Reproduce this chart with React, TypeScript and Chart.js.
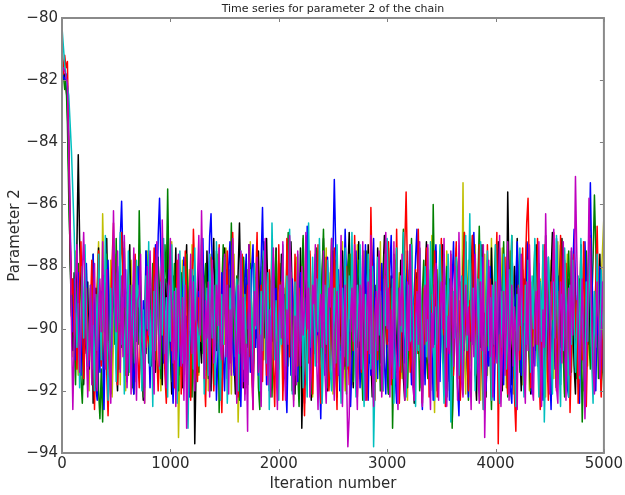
import React, { useEffect, useRef } from "react";
import { Chart, registerables } from "chart.js";

Chart.register(...registerables);

// Samples read every 12.5 iterations from iteration 0 to LAST_ITER
const LAST_ITER = 5000;
const X_TICKS = [0, 1000, 2000, 3000, 4000, 5000];
const Y_TICKS = [-94, -92, -90, -88, -86, -84, -82, -80];
const TITLE = "Time series for parameter 2 of the chain";
const X_LABEL = "Iteration number";
const Y_LABEL = "Parameter 2";

const chainBlue = [
  -81.7, -81.9, -82.0, -81.8, -82.2, -83.9, -86.5, -88.9, -90.1, -88.4, -91.0, -89.6, -88.2, -90.7, -91.5, -89.3, -90.8, -88.6, -87.9, -89.9,
  -91.2, -89.0, -90.3, -87.6, -89.4, -91.9, -92.3, -90.0, -91.4, -88.8, -90.6, -92.6, -90.1, -89.5, -87.8, -89.8, -90.7, -88.5, -87.9, -89.6,
  -90.2, -88.0, -89.4, -87.1, -85.9, -87.8, -89.3, -88.1, -91.7, -90.2, -88.9, -90.6, -91.3, -92.1, -89.6, -90.4, -88.0, -88.9, -90.8, -91.6,
  -89.1, -90.7, -87.5, -88.8, -90.3, -91.9, -89.7, -90.5, -88.4, -87.3, -89.6, -87.0, -85.8, -87.7, -89.6, -91.1, -90.0, -91.9, -89.2, -88.1,
  -90.4, -91.0, -92.4, -90.5, -89.9, -88.7, -90.6, -91.2, -89.4, -88.9, -87.7, -90.0, -89.6, -91.8, -92.2, -89.7, -90.5, -88.3, -89.9, -91.3,
  -89.5, -88.8, -90.4, -88.5, -87.1, -89.7, -91.3, -90.1, -88.9, -87.0, -86.3, -88.2, -90.8, -89.4, -92.3, -91.0, -89.6, -90.4, -88.2, -90.8,
  -92.0, -89.9, -91.3, -88.0, -87.2, -89.7, -90.4, -91.5, -89.2, -88.6, -90.5, -89.1, -92.5, -90.2, -91.7, -88.5, -87.6, -90.0, -89.5, -91.4,
  -88.1, -87.3, -89.9, -90.6, -88.9, -91.5, -89.2, -87.8, -86.1, -88.5, -89.3, -91.8, -90.1, -92.0, -89.6, -90.4, -87.7, -89.1, -88.7, -91.8,
  -90.6, -89.0, -88.9, -87.6, -90.2, -91.6, -92.7, -90.3, -89.8, -91.5, -88.4, -89.8, -90.3, -88.9, -91.7, -90.4, -88.2, -89.7, -91.2, -92.4,
  -90.0, -86.7, -88.3, -90.9, -89.5, -91.1, -88.8, -87.6, -90.2, -89.9, -91.2, -92.9, -90.4, -89.8, -91.5, -88.3, -87.7, -89.4, -91.6, -88.9,
  -87.6, -85.2, -87.3, -89.5, -88.1, -92.0, -90.6, -91.2, -89.0, -86.8, -88.4, -90.1, -89.7, -92.5, -91.1, -90.6, -88.3, -87.5, -90.0, -89.7,
  -91.9, -90.4, -88.9, -89.7, -87.3, -90.8, -92.3, -90.0, -91.5, -88.2, -87.1, -89.6, -90.2, -91.6, -89.5, -90.1, -87.9, -89.4, -91.1, -92.1,
  -89.8, -90.4, -88.1, -87.0, -89.5, -88.0, -91.5, -92.4, -90.1, -89.7, -91.4, -88.6, -90.2, -91.1, -88.7, -87.5, -89.9, -90.5, -91.8, -89.3,
  -88.9, -87.7, -86.8, -89.2, -88.9, -91.4, -92.6, -90.2, -91.8, -88.6, -89.5, -91.0, -89.1, -90.6, -92.3, -88.0, -87.3, -89.8, -90.4, -91.7,
  -89.2, -90.8, -87.6, -89.1, -91.7, -90.0, -92.3, -89.9, -88.5, -87.2, -89.6, -90.3, -91.9, -92.8, -90.4, -89.9, -91.6, -87.8, -89.3, -90.9,
  -92.2, -89.8, -90.4, -88.1, -86.9, -88.3, -90.8, -91.4, -89.2, -88.9, -87.7, -90.2, -89.8, -92.0, -90.6, -91.2, -88.0, -89.5, -91.1, -92.3,
  -90.0, -89.6, -91.3, -87.4, -88.9, -90.5, -91.8, -89.4, -90.0, -87.8, -89.3, -91.9, -92.4, -90.1, -89.7, -88.4, -87.2, -89.7, -90.2, -91.5,
  -89.1, -88.7, -90.5, -87.2, -87.4, -89.1, -91.7, -92.1, -90.6, -91.2, -88.8, -89.5, -87.9, -90.4, -91.0, -92.3, -89.9, -90.5, -88.2, -89.7,
  -91.3, -92.6, -90.1, -89.7, -91.3, -87.1, -88.6, -90.2, -91.8, -89.5, -90.1, -87.8, -89.2, -91.9, -92.2, -89.8, -90.4, -88.1, -86.8, -88.5,
  -90.1, -91.7, -92.4, -90.0, -89.6, -91.3, -87.2, -88.8, -90.4, -88.2, -85.3, -87.9, -89.6, -91.2, -92.0, -89.6, -90.2, -88.0, -89.5, -91.1,
  -91.5,
];

const chainGreen = [
  -81.6, -81.8, -82.3, -82.0, -83.4, -85.8, -87.5, -89.6, -88.4, -90.5, -91.8, -89.2, -87.9, -90.1, -91.6, -92.4, -90.7, -88.3, -89.6, -91.2,
  -90.3, -88.7, -89.9, -87.6, -90.2, -91.4, -89.0, -92.0, -92.9, -91.3, -93.0, -90.6, -89.1, -87.6, -88.9, -90.8, -92.1, -89.7, -88.4, -90.5,
  -87.1, -89.5, -91.3, -89.9, -90.6, -88.2, -87.4, -89.8, -90.9, -91.5, -88.6, -90.7, -91.9, -89.4, -87.8, -88.9, -90.5, -86.2, -88.6, -90.0,
  -92.2, -90.0, -87.5, -89.3, -91.1, -88.7, -90.4, -87.9, -89.6, -91.0, -89.2, -87.7, -90.3, -91.6, -88.8, -89.4, -87.3, -88.5, -85.5, -88.4,
  -90.6, -91.7, -89.3, -87.9, -90.1, -91.5, -92.0, -89.6, -88.2, -90.7, -91.2, -89.8, -87.6, -88.8, -91.0, -90.1, -92.2, -89.5, -88.7, -90.9,
  -89.7, -91.4, -88.1, -89.5, -90.8, -88.6, -87.9, -90.2, -91.6, -89.3, -88.4, -90.6, -91.8, -89.1, -87.5, -88.8, -92.7, -90.4, -88.6, -87.3,
  -89.5, -88.1, -90.7, -91.3, -89.0, -86.6, -89.0, -91.4, -90.1, -88.3, -89.9, -92.3, -91.0, -89.2, -87.7, -88.9, -90.6, -91.8, -89.6, -87.9,
  -89.3, -91.5, -90.2, -88.5, -89.8, -91.9, -92.6, -90.4, -88.0, -87.2, -89.4, -91.1, -89.9, -88.6, -90.8, -92.2, -90.6, -88.7, -87.5, -89.2,
  -91.3, -90.1, -88.4, -89.7, -91.6, -90.0, -87.8, -86.9, -89.1, -90.9, -92.0, -90.5, -88.3, -89.6, -91.4, -92.5, -90.3, -88.1, -87.0, -89.5,
  -91.2, -90.0, -88.6, -90.4, -92.1, -89.9, -90.8, -88.7, -87.4, -89.3, -91.0, -89.7, -88.2, -86.8, -89.0, -90.6, -91.9, -90.2, -88.5, -87.1,
  -89.8, -88.3, -90.5, -92.0, -90.7, -88.9, -87.6, -89.4, -91.3, -89.9, -92.1, -88.0, -87.6, -89.1, -90.8, -91.7, -89.3, -90.2, -88.4, -87.8,
  -89.2, -90.9, -92.3, -90.1, -88.6, -87.5, -89.0, -91.1, -89.8, -88.3, -90.6, -91.5, -89.7, -88.9, -90.5, -92.0, -90.7, -88.8, -87.6, -89.4,
  -91.0, -92.1, -90.3, -88.7, -93.2, -90.8, -88.7, -87.4, -89.3, -91.0, -89.7, -88.2, -86.8, -89.0, -90.6, -91.9, -90.2, -88.5, -87.1, -89.6,
  -91.2, -90.1, -88.4, -89.8, -92.0, -90.6, -88.9, -87.8, -89.3, -90.9, -91.6, -89.5, -88.1, -90.4, -86.0, -88.8, -90.5, -92.0, -90.7, -88.9,
  -87.6, -89.4, -91.3, -89.8, -88.0, -90.2, -91.7, -89.9, -93.2, -91.0, -89.1, -87.7, -88.6, -90.2, -91.8, -89.9, -88.0, -86.9, -89.2, -90.8,
  -92.3, -90.6, -88.8, -87.9, -89.6, -91.5, -90.3, -88.4, -86.7, -88.9, -90.7, -92.1, -91.2, -89.3, -87.8, -89.0, -90.9, -92.6, -90.4, -88.6,
  -87.3, -89.5, -91.1, -92.4, -90.6, -88.8, -87.2, -89.1, -90.8, -92.2, -90.5, -88.4, -87.0, -89.3, -91.6, -90.0, -88.7, -89.9, -91.4, -89.2,
  -88.1, -90.3, -91.8, -89.6, -88.3, -90.7, -92.0, -90.2, -88.6, -87.4, -89.5, -91.2, -90.0, -88.5, -89.8, -91.7, -92.3, -90.4, -88.9, -87.7,
  -89.4, -91.0, -89.6, -88.2, -90.3, -91.9, -90.1, -88.5, -87.3, -89.2, -90.8, -92.2, -90.6, -88.7, -87.5, -89.3, -91.4, -89.8, -88.1, -90.0,
  -91.6, -89.9, -88.4, -90.1, -93.0, -91.1, -89.0, -87.5, -88.6, -90.4, -91.3, -89.2, -87.8, -85.7, -87.4, -89.5, -91.6, -90.3, -92.0, -90.8,
  -91.8,
];

const chainRed = [
  -81.0, -81.8, -81.2, -81.6, -81.4, -84.0, -87.0, -88.9, -88.4, -90.2, -89.5, -91.3, -90.0, -88.6, -87.2, -89.4, -91.6, -90.2, -88.7, -89.9,
  -91.0, -89.4, -87.8, -90.3, -92.6, -90.5, -88.8, -87.5, -89.9, -91.2, -90.1, -88.3, -89.0, -91.4, -92.8, -91.2, -89.3, -87.8, -86.6, -88.7,
  -90.4, -91.8, -89.6, -87.9, -86.9, -88.5, -90.7, -91.5, -89.4, -88.1, -90.0, -91.1, -89.8, -88.4, -87.6, -89.3, -90.9, -91.9, -90.2, -90.4,
  -90.5, -90.3, -90.6, -90.1, -90.4, -90.7, -90.2, -89.2, -87.4, -88.6, -90.9, -92.0, -90.2, -88.5, -87.6, -89.8, -91.5, -92.4, -90.6, -88.9,
  -88.3, -90.7, -89.1, -91.9, -90.2, -87.8, -89.6, -88.4, -92.1, -90.5, -89.7, -87.5, -88.9, -91.0, -90.1, -92.3, -89.4, -86.8, -88.2, -90.6,
  -91.7, -89.0, -90.4, -87.6, -88.7, -91.4, -92.5, -89.9, -90.8, -88.3, -87.7, -90.2, -92.0, -91.1, -88.5, -89.6, -87.3, -91.3, -92.7, -90.1,
  -88.8, -89.9, -87.5, -90.6, -91.1, -89.4, -86.9, -88.7, -90.5, -89.2, -92.2, -91.0, -88.1, -87.6, -90.3, -92.1, -89.5, -88.6, -90.9, -89.0,
  -91.3, -92.6, -89.7, -88.4, -86.9, -89.9, -90.8, -88.6, -91.7, -89.6, -87.9, -91.5, -90.2, -88.1, -89.3, -87.4, -91.2, -92.5, -89.8, -90.4,
  -87.3, -89.4, -88.5, -92.3, -90.5, -91.4, -87.1, -89.0, -90.9, -88.2, -92.0, -90.1, -87.6, -89.5, -91.2, -88.7, -90.0, -89.8, -91.6, -92.8,
  -90.6, -88.9, -91.1, -87.5, -89.2, -92.1, -90.4, -88.6, -90.0, -87.3, -91.0, -92.4, -89.4, -88.5, -90.8, -87.7, -89.6, -92.0, -91.3, -88.7,
  -89.9, -87.4, -91.1, -92.6, -88.8, -90.5, -87.6, -89.4, -91.2, -89.7, -88.0, -90.3, -91.8, -89.9, -88.2, -90.7, -87.0, -89.1, -92.2, -90.6,
  -88.8, -91.4, -87.5, -89.6, -90.1, -92.3, -88.4, -89.9, -86.1, -88.5, -90.2, -92.3, -89.0, -91.0, -87.6, -88.8, -90.7, -92.0, -89.1, -88.3,
  -90.5, -87.2, -89.0, -91.8, -90.6, -88.1, -89.7, -86.8, -89.3, -92.4, -91.1, -88.7, -90.0, -87.4, -85.6, -88.2, -89.6, -91.4, -90.4, -91.8,
  -89.9, -88.1, -90.8, -86.8, -89.3, -91.1, -92.4, -88.7, -90.5, -87.4, -89.6, -92.2, -91.4, -88.9, -90.0, -87.5, -89.0, -92.2, -90.6, -88.5,
  -87.1, -90.2, -89.4, -92.5, -91.2, -88.8, -90.7, -87.6, -89.9, -91.5, -88.3, -87.2, -90.1, -89.1, -92.3, -90.9, -88.5, -86.9, -89.8, -90.7,
  -92.0, -89.1, -90.4, -87.0, -88.3, -91.2, -89.4, -90.2, -87.3, -88.6, -91.3, -92.6, -89.5, -90.8, -87.3, -89.0, -88.4, -92.3, -90.6, -91.1,
  -88.5, -86.9, -93.7, -90.2, -91.3, -88.8, -89.2, -87.7, -90.5, -92.1, -88.6, -90.4, -87.2, -89.0, -92.2, -93.3, -90.8, -88.6, -91.0, -89.5,
  -87.4, -89.8, -88.1, -86.6, -85.8, -88.3, -91.9, -90.2, -89.0, -88.4, -90.5, -87.1, -91.3, -92.6, -89.5, -90.4, -87.3, -88.7, -90.9, -92.3,
  -90.6, -88.5, -89.7, -86.9, -90.7, -92.0, -88.8, -91.2, -87.0, -89.4, -90.1, -88.6, -87.9, -91.5, -89.2, -92.7, -90.8, -88.9, -87.6, -90.3,
  -89.1, -92.4, -90.7, -88.6, -91.0, -87.2, -89.3, -92.5, -90.3, -88.4, -87.1, -89.9, -91.4, -90.0, -88.5, -86.7, -88.9, -90.8, -92.2, -89.4,
  -87.6,
];

const chainCyan = [
  -80.3, -80.9, -81.5, -81.9, -82.2, -82.5, -83.4, -84.3, -85.6, -86.9, -88.8, -90.6, -89.2, -91.9, -89.7, -88.0, -90.3, -87.3, -89.5, -91.2,
  -90.4, -88.6, -91.3, -89.9, -92.0, -88.9, -90.7, -87.6, -89.2, -91.0, -88.4, -90.1, -87.0, -89.3, -92.3, -91.5, -88.7, -90.6, -87.4, -89.1,
  -91.7, -88.2, -89.8, -86.9, -90.5, -89.0, -92.1, -88.9, -90.8, -87.5, -91.4, -89.7, -88.6, -90.2, -91.1, -87.8, -89.3, -88.6, -90.4, -92.0,
  -89.4, -91.9, -88.3, -90.0, -87.2, -91.2, -89.4, -92.5, -88.8, -90.7, -87.6, -89.5, -91.3, -88.5, -90.2, -87.1, -90.8, -89.0, -92.2, -88.6,
  -90.4, -87.3, -89.2, -91.0, -88.7, -92.4, -90.6, -87.5, -89.6, -91.1, -88.0, -89.8, -91.4, -93.2, -90.6, -89.6, -88.1, -91.3, -87.4, -89.7,
  -90.0, -91.2, -88.5, -87.1, -89.3, -92.1, -90.4, -88.7, -91.5, -87.6, -89.4, -90.3, -88.6, -91.8, -87.2, -89.0, -90.8, -92.3, -88.9, -90.5,
  -87.7, -89.2, -92.4, -91.0, -88.7, -90.6, -87.3, -89.1, -90.9, -88.4, -92.0, -90.2, -87.5, -89.6, -91.3, -88.9, -90.5, -91.8, -89.9, -88.1,
  -89.5, -91.3, -87.9, -90.0, -88.4, -90.3, -92.0, -88.8, -90.7, -87.5, -89.3, -91.1, -88.2, -92.6, -90.4, -86.6, -88.7, -91.0, -89.1, -90.9,
  -92.3, -88.6, -90.5, -87.3, -89.4, -91.2, -88.3, -90.0, -86.8, -89.2, -92.1, -90.7, -88.5, -91.5, -87.6, -89.6, -90.4, -88.7, -91.9, -89.0,
  -90.8, -92.2, -86.6, -88.9, -90.6, -87.7, -89.5, -91.2, -88.4, -90.1, -87.1, -89.3, -92.4, -91.0, -88.6, -90.5, -87.8, -89.4, -91.3, -92.0,
  -90.2, -88.7, -91.1, -87.3, -89.0, -90.8, -92.4, -88.7, -90.9, -87.4, -89.5, -91.2, -88.3, -90.1, -86.9, -89.1, -90.6, -92.2, -88.6, -90.4,
  -87.3, -89.2, -91.0, -92.5, -88.9, -90.7, -87.6, -89.4, -91.3, -88.0, -93.8, -91.6, -89.8, -87.7, -90.2, -88.8, -90.6, -92.0, -88.4, -89.9,
  -87.1, -89.0, -91.5, -90.8, -88.4, -92.4, -90.9, -87.4, -89.5, -91.2, -88.3, -90.1, -86.9, -89.1, -92.2, -90.6, -88.6, -90.4, -87.3, -89.2,
  -91.0, -92.5, -88.9, -90.7, -87.6, -89.4, -91.3, -89.8, -88.0, -90.9, -89.7, -91.1, -87.2, -88.6, -90.0, -92.3, -89.3, -90.5, -88.6, -87.3,
  -89.2, -91.0, -92.4, -88.6, -90.6, -87.6, -89.4, -93.0, -91.3, -88.8, -90.3, -87.7, -89.1, -91.5, -90.2, -88.3, -92.1, -89.6, -87.0, -90.7,
  -88.9, -86.3, -89.4, -90.5, -88.7, -92.0, -90.2, -88.4, -91.1, -87.2, -89.3, -92.6, -90.8, -88.9, -87.5, -90.7, -89.0, -92.3, -88.6, -90.5,
  -87.3, -89.2, -91.0, -92.4, -88.8, -90.6, -87.6, -89.4, -91.3, -89.9, -88.1, -90.5, -87.0, -89.3, -91.2, -92.5, -88.9, -90.7, -87.4, -89.0,
  -90.8, -92.2, -88.6, -90.5, -87.8, -89.6, -91.4, -88.3, -90.0, -87.1, -89.0, -90.8, -92.2, -88.5, -90.4, -87.3, -93.0, -91.1, -89.1, -87.7,
  -88.9, -90.6, -92.1, -88.5, -90.3, -87.0, -89.3, -91.2, -92.5, -88.9, -90.7, -87.4, -89.0, -90.8, -92.2, -88.6, -90.5, -87.8, -89.6, -91.4,
  -90.0, -88.3, -91.6, -87.1, -89.0, -90.8, -92.2, -88.5, -90.4, -87.3, -89.2, -91.0, -92.4, -88.8, -90.6, -87.6, -89.4, -91.3, -88.1, -89.6,
  -90.5,
];

const chainMagenta = [
  -81.8, -81.6, -81.7, -81.9, -82.1, -84.5, -86.8, -89.9, -92.6, -90.4, -88.5, -87.3, -89.6, -91.4, -90.1, -88.2, -86.9, -88.8, -90.7, -92.2,
  -90.5, -88.6, -91.8, -89.3, -87.9, -90.8, -92.0, -89.5, -88.4, -90.1, -87.2, -89.9, -91.3, -88.1, -90.4, -91.0, -92.4, -89.6, -86.2, -88.7,
  -90.1, -87.5, -89.9, -91.4, -88.3, -90.9, -87.0, -89.4, -91.9, -90.5, -88.6, -92.1, -89.6, -87.4, -90.7, -92.3, -89.1, -88.9, -87.6, -90.3,
  -91.0, -92.4, -89.6, -88.0, -90.2, -87.5, -89.1, -90.8, -92.1, -88.5, -87.2, -89.9, -91.2, -90.0, -86.5, -88.6, -90.4, -91.9, -89.2, -88.4,
  -87.1, -90.3, -91.1, -88.8, -92.5, -89.7, -87.6, -90.5, -91.2, -89.0, -92.3, -88.6, -93.2, -91.0, -89.0, -87.6, -90.8, -88.5, -92.0, -90.2,
  -88.4, -87.0, -90.2, -86.2, -88.7, -91.6, -89.1, -90.3, -88.5, -92.2, -89.3, -87.8, -91.1, -90.5, -88.6, -89.9, -87.4, -90.6, -91.0, -89.1,
  -87.6, -90.9, -88.6, -92.1, -89.4, -91.5, -87.1, -89.3, -90.2, -92.4, -88.6, -90.8, -87.5, -91.9, -89.0, -92.3, -90.5, -93.3, -87.3, -90.1,
  -90.9, -92.6, -88.8, -89.9, -87.7, -91.4, -90.2, -92.5, -89.3, -88.4, -87.1, -90.0, -91.8, -89.4, -92.2, -88.7, -87.4, -90.3, -91.1, -92.6,
  -89.5, -88.6, -90.3, -87.2, -91.0, -92.3, -89.4, -90.5, -87.0, -88.1, -90.9, -92.5, -89.6, -91.8, -87.5, -90.4, -91.2, -88.0, -90.2, -89.3,
  -86.9, -90.0, -88.7, -92.2, -91.4, -88.6, -89.2, -87.3, -91.1, -92.6, -89.7, -88.9, -90.6, -87.5, -91.3, -92.4, -90.5, -88.7, -89.3, -87.1,
  -90.9, -92.3, -89.6, -88.8, -91.5, -89.2, -87.0, -92.5, -90.4, -88.6, -91.4, -93.8, -92.8, -89.6, -88.7, -90.4, -87.3, -91.1, -92.6, -89.5,
  -88.6, -91.3, -87.2, -90.0, -92.3, -89.4, -88.5, -90.8, -87.0, -91.1, -92.5, -89.6, -88.8, -90.7, -87.5, -89.4, -92.2, -91.0, -88.3, -86.9,
  -90.0, -88.7, -92.2, -89.4, -91.6, -87.2, -90.3, -91.1, -92.6, -88.7, -89.9, -87.6, -90.5, -92.3, -91.4, -88.5, -90.7, -87.3, -89.1, -91.9,
  -92.3, -89.6, -88.8, -90.5, -87.2, -91.0, -92.5, -89.4, -88.6, -90.4, -87.3, -91.1, -92.6, -89.5, -90.6, -88.3, -87.9, -91.0, -92.3, -89.4,
  -88.5, -90.0, -87.1, -91.9, -92.5, -89.6, -90.8, -87.5, -89.4, -91.2, -88.0, -90.2, -92.3, -86.9, -89.0, -91.7, -92.2, -89.4, -88.6, -90.2,
  -89.3, -91.1, -92.6, -88.7, -90.9, -87.6, -89.5, -91.3, -92.4, -88.5, -90.7, -87.3, -93.5, -91.1, -89.2, -87.8, -90.9, -88.6, -92.2, -90.4,
  -88.5, -91.1, -89.2, -87.0, -92.5, -90.7, -88.8, -91.5, -89.4, -87.2, -92.3, -90.4, -88.6, -91.2, -89.3, -90.1, -92.6, -88.7, -89.9, -87.6,
  -89.5, -91.3, -92.4, -88.5, -90.7, -87.3, -89.1, -91.9, -92.3, -89.6, -88.8, -90.5, -87.2, -91.0, -92.5, -89.4, -90.6, -86.3, -88.7, -90.5,
  -92.1, -89.3, -88.4, -86.8, -90.0, -91.9, -92.4, -89.6, -88.5, -91.1, -87.2, -90.0, -92.3, -89.5, -88.7, -91.5, -87.4, -90.2, -88.9, -85.1,
  -87.6, -89.8, -91.5, -90.2, -88.4, -90.3, -92.9, -91.0, -89.1, -85.8, -87.9, -89.6, -91.3, -92.1, -90.3, -88.5, -89.9, -91.6, -90.2, -88.5,
  -89.7,
];

const chainYellow = [
  -81.5, -81.8, -82.0, -82.3, -82.6, -84.8, -87.3, -89.2, -90.9, -88.6, -87.5, -90.8, -91.5, -89.2, -88.3, -90.7, -91.3, -89.5, -88.1, -90.6,
  -92.0, -89.3, -88.7, -90.9, -91.6, -89.1, -88.5, -87.2, -90.4, -91.1, -86.3, -88.4, -90.6, -89.6, -91.9, -89.3, -87.8, -92.2, -90.4, -88.6,
  -87.6, -90.1, -89.7, -91.8, -88.9, -90.4, -87.2, -92.0, -89.5, -91.2, -88.3, -87.8, -90.9, -89.6, -91.7, -88.8, -90.1, -87.3, -89.2, -91.9,
  -90.1, -92.4, -88.7, -87.5, -90.6, -91.3, -89.0, -88.3, -91.5, -90.2, -87.9, -88.6, -90.8, -92.0, -89.1, -87.9, -89.8, -91.5, -90.9, -88.1,
  -89.4, -87.2, -90.1, -91.8, -92.0, -89.3, -93.5, -91.2, -89.3, -87.8, -90.9, -88.6, -91.7, -89.8, -88.1, -90.3, -87.3, -89.2, -91.9, -90.4,
  -88.7, -91.5, -89.6, -87.3, -90.0, -88.3, -91.5, -89.2, -92.0, -90.2, -87.6, -89.9, -91.4, -88.1, -90.4, -87.6, -89.3, -92.0, -90.2, -88.8,
  -90.5, -87.4, -89.3, -91.0, -88.1, -92.1, -89.4, -87.6, -90.5, -89.2, -93.0, -91.4, -88.4, -89.9, -87.8, -90.5, -91.9, -88.1, -89.4, -87.2,
  -89.8, -91.6, -88.2, -90.3, -87.7, -89.5, -92.1, -90.4, -88.5, -91.0, -87.4, -89.1, -90.8, -88.3, -91.9, -89.7, -87.6, -90.2, -91.4, -88.9,
  -90.6, -87.9, -89.4, -92.0, -88.7, -90.1, -87.3, -91.2, -89.5, -88.4, -90.8, -92.3, -89.0, -87.7, -90.3, -91.5, -88.6, -89.9, -87.1, -90.7,
  -91.8, -88.5, -90.2, -87.6, -89.7, -92.2, -90.0, -88.3, -91.1, -89.4, -87.5, -90.6, -91.9, -88.8, -90.0, -87.4, -89.6, -91.3, -88.2, -90.5,
  -92.1, -89.3, -87.8, -90.7, -91.5, -88.6, -89.9, -87.2, -90.4, -92.0, -88.9, -91.3, -89.5, -87.6, -90.2, -91.8, -88.4, -89.7, -87.3, -90.9,
  -91.6, -88.7, -90.3, -87.5, -89.8, -92.2, -90.6, -88.1, -91.0, -89.3, -87.9, -90.5, -91.7, -88.6, -89.9, -87.2, -90.8, -92.0, -89.1, -88.3,
  -90.6, -87.4, -89.7, -91.4, -88.5, -90.1, -87.8, -92.1, -89.4, -88.2, -90.7, -91.6, -89.0, -87.5, -90.3, -92.3, -88.8, -89.6, -87.3, -90.2,
  -91.5, -88.9, -90.4, -87.6, -89.2, -91.9, -90.0, -88.3, -90.8, -89.1, -87.4, -91.2, -89.7, -87.0, -90.5, -92.7, -89.4, -88.1, -90.6, -87.9,
  -89.3, -91.1, -88.4, -90.3, -87.5, -89.8, -92.0, -90.6, -88.7, -91.3, -89.5, -87.4, -90.1, -91.6, -88.5, -89.9, -85.3, -90.8, -92.1, -89.0,
  -87.8, -90.4, -91.2, -88.6, -89.7, -87.3, -91.1, -89.2, -90.5, -92.3, -88.4, -89.8, -87.6, -90.9, -91.5, -88.2, -89.4, -87.1, -90.6, -92.0,
  -89.5, -88.0, -90.3, -91.7, -88.8, -87.4, -90.1, -89.2, -91.9, -88.6, -90.4, -87.5, -89.7, -92.1, -90.0, -88.3, -91.2, -89.4, -87.6, -90.7,
  -91.8, -88.9, -90.2, -87.3, -89.6, -92.0, -90.4, -88.5, -91.1, -89.2, -87.7, -90.6, -91.5, -88.4, -89.9, -87.5, -90.8, -92.2, -89.3, -88.1,
  -90.5, -87.8, -89.4, -91.6, -88.7, -90.3, -87.2, -91.0, -89.6, -88.3, -90.9, -92.1, -89.1, -87.6, -90.4, -91.8, -88.5, -89.7, -87.4, -90.2,
  -91.3, -88.6, -90.0, -87.5, -89.8, -92.0, -90.5, -88.2, -91.2, -89.3, -87.6, -90.7, -91.9, -88.8, -89.6, -87.3, -90.4, -91.6, -88.5, -87.4,
  -86.4,
];

const chainBlack = [
  -81.9, -82.0, -81.8, -82.2, -82.8, -85.0, -87.8, -89.5, -90.7, -88.2, -89.6, -87.4, -84.4, -87.1, -88.6, -90.3, -91.8, -89.9, -90.8, -88.5,
  -91.3, -89.7, -88.5, -92.4, -90.6, -88.7, -89.4, -87.4, -90.2, -91.0, -89.0, -88.3, -90.9, -87.1, -89.6, -91.3, -90.0, -88.5, -87.6, -89.4,
  -91.1, -92.0, -89.2, -88.6, -90.4, -87.8, -89.7, -91.4, -90.3, -88.4, -87.3, -90.1, -90.8, -92.1, -89.4, -88.7, -90.5, -87.5, -89.2, -91.0,
  -92.3, -89.5, -90.8, -88.8, -87.6, -89.5, -91.2, -88.3, -90.6, -91.4, -89.4, -87.9, -88.9, -90.6, -91.8, -89.1, -88.4, -90.2, -87.2, -89.0,
  -90.8, -92.1, -88.3, -89.5, -87.4, -90.6, -91.5, -88.8, -90.5, -91.9, -89.2, -88.4, -87.3, -90.1, -90.9, -92.2, -89.4, -88.6, -93.7, -91.2,
  -89.0, -87.9, -90.4, -91.1, -88.3, -89.6, -90.9, -87.5, -89.4, -91.2, -92.0, -88.3, -87.1, -90.0, -90.7, -88.1, -89.3, -91.5, -90.3, -88.5,
  -87.4, -89.9, -91.6, -88.6, -90.0, -87.8, -89.2, -91.0, -92.1, -89.7, -88.2, -86.6, -88.8, -90.5, -91.9, -89.2, -88.4, -90.6, -87.3, -89.1,
  -90.9, -92.2, -89.4, -88.6, -90.3, -87.5, -89.4, -91.2, -88.0, -90.3, -88.7, -87.1, -89.0, -90.7, -92.0, -89.3, -88.5, -90.8, -87.4, -89.6,
  -91.0, -89.2, -87.6, -90.9, -88.9, -90.6, -91.8, -88.1, -89.4, -87.2, -89.1, -90.8, -92.1, -89.4, -88.6, -90.4, -87.4, -93.2, -91.1, -90.0,
  -88.2, -87.0, -89.2, -91.0, -92.3, -89.5, -88.7, -90.5, -87.5, -89.4, -91.2, -90.1, -88.3, -87.1, -89.0, -90.8, -92.0, -90.3, -90.5, -88.7,
  -87.5, -89.4, -91.2, -92.2, -89.6, -88.6, -90.7, -87.5, -89.4, -91.2, -90.0, -88.2, -86.9, -89.0, -90.7, -91.9, -89.2, -88.4, -90.6, -87.2,
  -89.1, -90.9, -92.0, -89.3, -88.5, -90.6, -87.3, -89.2, -91.0, -92.2, -89.4, -88.6, -90.4, -87.4, -89.3, -91.1, -90.0, -88.2, -87.0, -89.7,
  -91.3, -92.1, -89.5, -88.3, -90.2, -87.6, -89.6, -91.4, -88.7, -90.5, -87.8, -89.2, -91.6, -92.3, -89.0, -88.1, -90.4, -87.3, -89.5, -91.0,
  -92.4, -89.6, -88.2, -90.8, -87.4, -89.7, -91.5, -90.2, -88.4, -87.2, -89.8, -91.3, -92.0, -89.3, -88.6, -90.5, -87.5, -89.1, -91.0, -90.3,
  -88.6, -87.3, -89.5, -91.2, -92.2, -89.7, -88.4, -90.1, -93.0, -91.1, -89.3, -87.7, -88.8, -90.6, -92.0, -89.4, -88.3, -90.7, -87.2, -89.4,
  -91.1, -90.0, -88.2, -87.0, -89.6, -91.4, -92.3, -89.5, -88.5, -90.6, -87.3, -89.2, -91.0, -92.2, -89.4, -88.6, -90.4, -87.4, -89.3, -91.1,
  -90.1, -88.4, -87.2, -89.5, -91.3, -92.0, -89.4, -88.6, -90.5, -85.6, -88.4, -90.2, -91.8, -89.2, -88.0, -90.3, -87.1, -89.0, -90.8, -92.0,
  -89.6, -88.4, -90.9, -87.2, -89.1, -90.9, -92.1, -89.3, -88.5, -90.7, -87.3, -89.2, -91.0, -92.2, -89.4, -88.6, -90.3, -87.0, -89.8, -91.4,
  -90.0, -88.3, -86.9, -88.7, -90.5, -91.9, -89.1, -88.3, -90.6, -87.1, -89.0, -90.8, -91.5, -89.2, -88.4, -90.2, -87.5, -89.4, -91.2, -92.1,
  -89.7, -88.5, -90.6, -87.3, -89.2, -91.0, -92.2, -89.4, -88.6, -90.5, -87.0, -89.3, -91.1, -92.0, -89.5, -88.2, -90.4, -87.6, -89.5, -91.0,
  -91.5,
];

// matplotlib classic colour cycle; `order` controls which chain is painted on top
const SERIES = [
  { name: "chain b", values: chainBlue, color: "#0000ff", order: 3 },
  { name: "chain g", values: chainGreen, color: "#008000", order: 4 },
  { name: "chain r", values: chainRed, color: "#ff0000", order: 2 },
  { name: "chain c", values: chainCyan, color: "#00bfbf", order: 1 },
  { name: "chain m", values: chainMagenta, color: "#bf00bf", order: 0 },
  { name: "chain y", values: chainYellow, color: "#bfbf00", order: 6 },
  { name: "chain k", values: chainBlack, color: "#000000", order: 5 },
];

const FONT = "'DejaVu Sans', 'Liberation Sans', sans-serif";
const minusSign = (v: number | string) => String(v).replace("-", "\u2212");

const framePlugin = {
  id: "mplFrame",
  afterDatasetsDraw(chart: any) {
    const { ctx, chartArea, scales } = chart;
    const { left, right, top, bottom } = chartArea;
    const x = scales.x;
    const y = scales.y;
    ctx.save();
    ctx.strokeStyle = "#7f7f7f";
    ctx.lineWidth = 1;
    ctx.beginPath();
    for (const v of X_TICKS) {
      const px = Math.round(x.getPixelForValue(v)) + 0.5;
      ctx.moveTo(px, top);
      ctx.lineTo(px, top + 4);
      ctx.moveTo(px, bottom);
      ctx.lineTo(px, bottom - 4);
    }
    for (const v of Y_TICKS) {
      const py = Math.round(y.getPixelForValue(v)) + 0.5;
      ctx.moveTo(left, py);
      ctx.lineTo(left + 4, py);
      ctx.moveTo(right, py);
      ctx.lineTo(right - 4, py);
    }
    ctx.stroke();
    ctx.lineWidth = 2;
    ctx.strokeStyle = "#8a8a8a";
    ctx.strokeRect(left, top, right - left, bottom - top);
    ctx.restore();
  },
  afterDraw(chart: any) {
    const { ctx, chartArea } = chart;
    ctx.save();
    ctx.fillStyle = "#222";
    ctx.font = `11px ${FONT}`;
    ctx.textAlign = "center";
    ctx.textBaseline = "middle";
    ctx.fillText(TITLE, (chartArea.left + chartArea.right) / 2, 9);
    ctx.restore();
  },
};

export default function App() {
  const canvasRef = useRef<HTMLCanvasElement | null>(null);

  useEffect(() => {
    if (!canvasRef.current) return;
    const datasets = SERIES.map((s) => {
      const step = LAST_ITER / (s.values.length - 1);
      return {
        label: s.name,
        data: s.values.map((v, i) => ({ x: i * step, y: v })),
        borderColor: s.color,
        backgroundColor: s.color,
        borderWidth: 1.5,
        borderJoinStyle: "round" as const,
        pointRadius: 0,
        pointHoverRadius: 0,
        tension: 0,
        fill: false,
        order: s.order,
      };
    });

    const chart = new Chart(canvasRef.current, {
      type: "line",
      data: { datasets },
      options: {
        animation: false,
        responsive: false,
        maintainAspectRatio: false,
        devicePixelRatio: 1,
        events: [],
        layout: { padding: { left: 0, right: 19, top: 18, bottom: 0 } },
        plugins: {
          legend: { display: false },
          tooltip: { enabled: false },
          title: { display: false },
        },
        scales: {
          x: {
            type: "linear",
            min: 0,
            max: 5000,
            afterFit: (s: any) => {
              s.height = 42;
            },
            afterBuildTicks: (s: any) => {
              s.ticks = X_TICKS.map((v) => ({ value: v }));
            },
            grid: { display: false, drawTicks: false },
            border: { display: false },
            ticks: {
              padding: 2,
              color: "#2b2b2b",
              font: { family: FONT, size: 15 },
              maxRotation: 0,
              autoSkip: false,
              callback: (v: any) => String(v),
            },
            title: {
              display: true,
              text: X_LABEL,
              color: "#2b2b2b",
              font: { family: FONT, size: 15 },
              padding: { top: 0, bottom: 2 },
            },
          },
          y: {
            type: "linear",
            min: -94,
            max: -80,
            afterFit: (s: any) => {
              s.width = 62;
            },
            afterBuildTicks: (s: any) => {
              s.ticks = Y_TICKS.map((v) => ({ value: v }));
            },
            grid: { display: false, drawTicks: false },
            border: { display: false },
            ticks: {
              padding: 4,
              color: "#2b2b2b",
              font: { family: FONT, size: 15 },
              autoSkip: false,
              callback: (v: any) => minusSign(v),
            },
            title: {
              display: true,
              text: Y_LABEL,
              color: "#2b2b2b",
              font: { family: FONT, size: 15 },
              padding: { top: 6, bottom: 0 },
            },
          },
        },
      },
      plugins: [framePlugin],
    });
    return () => chart.destroy();
  }, []);

  return (
    <div style={{ position: "absolute", left: 0, top: 0, width: 625, height: 495, background: "#fff" }}>
      <canvas ref={canvasRef} width={625} height={495} style={{ display: "block", width: 625, height: 495 }} />
    </div>
  );
}
